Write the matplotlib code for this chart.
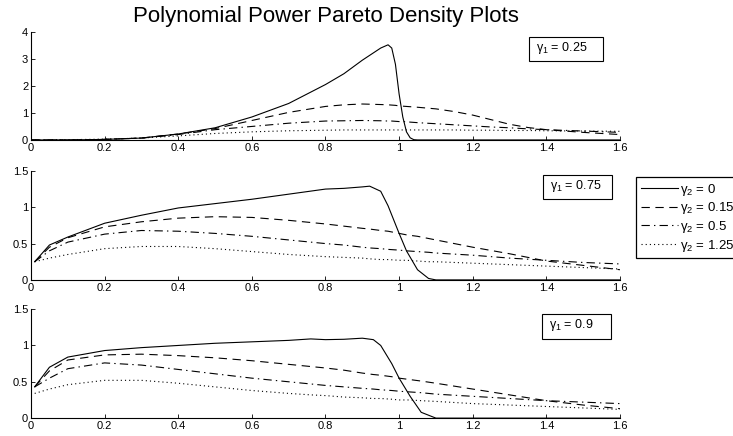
import matplotlib
matplotlib.use('Agg')
import matplotlib.pyplot as plt
from matplotlib.patches import Rectangle

plt.rcParams['font.family'] = ['Liberation Sans', 'DejaVu Sans']
plt.rcParams['mathtext.fontset'] = 'custom'
plt.rcParams['mathtext.rm'] = 'Liberation Sans'
plt.rcParams['mathtext.it'] = 'Liberation Sans'
plt.rcParams['lines.scale_dashes'] = False

# gamma_1 = 0.25
x_top = [0, 0.1, 0.2, 0.3, 0.4, 0.5, 0.6, 0.7, 0.8, 0.85, 0.9, 0.95, 0.97, 0.98, 0.99, 1.0,
         1.01, 1.02, 1.03, 1.04, 1.05, 1.1, 1.15, 1.2, 1.25, 1.3, 1.35, 1.4, 1.5, 1.6]
top_g0 = [0, 0.0, 0.02, 0.07, 0.22, 0.45, 0.85, 1.35, 2.05, 2.45, 2.95, 3.4, 3.52, 3.4, 2.8, 1.7,
          0.85, 0.3, 0.08, 0.01, 0, 0, 0, 0, 0, 0, 0, 0, 0, 0]
top_g015 = [0, 0.0, 0.02, 0.07, 0.22, 0.42, 0.72, 1.02, 1.24, 1.3, 1.33, 1.31, 1.3, 1.29, 1.28, 1.26,
            1.25, 1.24, 1.23, 1.22, 1.21, 1.15, 1.05, 0.92, 0.75, 0.58, 0.46, 0.38, 0.28, 0.2]
top_g05 = [0, 0.0, 0.02, 0.07, 0.2, 0.38, 0.5, 0.62, 0.7, 0.71, 0.72, 0.71, 0.7, 0.7, 0.69, 0.68,
           0.68, 0.67, 0.66, 0.65, 0.64, 0.6, 0.56, 0.52, 0.48, 0.45, 0.41, 0.38, 0.33, 0.28]
top_g125 = [0, 0.01, 0.03, 0.07, 0.15, 0.24, 0.3, 0.34, 0.36, 0.37, 0.37, 0.37, 0.37, 0.37, 0.37, 0.37,
            0.37, 0.37, 0.37, 0.37, 0.37, 0.37, 0.37, 0.36, 0.36, 0.35, 0.35, 0.34, 0.33, 0.32]

# gamma_1 = 0.75
x_mid = [0.01, 0.05, 0.1, 0.2, 0.3, 0.4, 0.5, 0.6, 0.7, 0.8, 0.85, 0.9, 0.92, 0.95, 0.97, 1.0,
         1.02, 1.05, 1.08, 1.1, 1.2, 1.3, 1.4, 1.5, 1.6]
mid_g0 = [0.25, 0.48, 0.59, 0.78, 0.89, 0.99, 1.05, 1.11, 1.18, 1.25, 1.26, 1.28, 1.29, 1.22, 1.02, 0.64,
          0.4, 0.14, 0.02, 0, 0, 0, 0, 0, 0]
mid_g015 = [0.25, 0.45, 0.58, 0.73, 0.8, 0.85, 0.87, 0.86, 0.82, 0.77, 0.74, 0.71, 0.7, 0.68, 0.67, 0.64,
            0.62, 0.6, 0.57, 0.55, 0.45, 0.36, 0.26, 0.2, 0.14]
mid_g05 = [0.25, 0.4, 0.52, 0.63, 0.68, 0.67, 0.64, 0.6, 0.55, 0.5, 0.48, 0.45, 0.44, 0.43, 0.42, 0.41,
           0.4, 0.39, 0.38, 0.37, 0.34, 0.3, 0.27, 0.24, 0.22]
mid_g125 = [0.25, 0.3, 0.35, 0.43, 0.46, 0.46, 0.43, 0.39, 0.35, 0.32, 0.31, 0.3, 0.29, 0.28, 0.28, 0.27,
            0.27, 0.26, 0.25, 0.25, 0.23, 0.21, 0.19, 0.17, 0.15]

# gamma_1 = 0.9
x_bot = [0.01, 0.05, 0.1, 0.2, 0.3, 0.4, 0.5, 0.6, 0.7, 0.76, 0.8, 0.85, 0.9, 0.93, 0.95, 0.98, 1.0,
         1.03, 1.06, 1.1, 1.2, 1.3, 1.4, 1.5, 1.6]
bot_g0 = [0.43, 0.7, 0.84, 0.93, 0.97, 1.0, 1.03, 1.05, 1.07, 1.09, 1.08, 1.085, 1.1, 1.08, 1.0, 0.75, 0.55,
          0.3, 0.08, 0, 0, 0, 0, 0, 0]
bot_g015 = [0.43, 0.65, 0.8, 0.87, 0.88, 0.86, 0.83, 0.79, 0.74, 0.71, 0.69, 0.66, 0.62, 0.6, 0.59, 0.57, 0.55,
            0.53, 0.51, 0.48, 0.4, 0.32, 0.24, 0.18, 0.13]
bot_g05 = [0.43, 0.55, 0.68, 0.76, 0.73, 0.67, 0.61, 0.55, 0.5, 0.47, 0.45, 0.43, 0.41, 0.4, 0.39, 0.38, 0.37,
           0.36, 0.35, 0.33, 0.3, 0.27, 0.24, 0.22, 0.2]
bot_g125 = [0.34, 0.4, 0.46, 0.52, 0.52, 0.48, 0.43, 0.38, 0.34, 0.32, 0.31, 0.29, 0.28, 0.27, 0.27, 0.26, 0.25,
            0.25, 0.24, 0.23, 0.2, 0.18, 0.16, 0.14, 0.12]

gamma1_labels = ['0.25', '0.75', '0.9']
gamma2_labels = ['0', '0.15', '0.5', '1.25']
styles = ['-', (0, (6, 4)), (0, (6, 3, 1, 3)), (0, (0.8, 2.2))]

panels = [
    (x_top, [top_g0, top_g015, top_g05, top_g125], 4, [0, 1, 2, 3, 4]),
    (x_mid, [mid_g0, mid_g015, mid_g05, mid_g125], 1.5, [0, 0.5, 1, 1.5]),
    (x_bot, [bot_g0, bot_g015, bot_g05, bot_g125], 1.5, [0, 0.5, 1, 1.5]),
]

fig = plt.figure(figsize=(7.33, 4.36), dpi=100)
rects = [[0.0423, 0.679, 0.8035, 0.248],
         [0.0423, 0.358, 0.8035, 0.25],
         [0.0423, 0.041, 0.8035, 0.25]]
boxes = [(0.846, 0.73, 0.126, 0.224),
         (0.869, 0.743, 0.117, 0.22),
         (0.868, 0.725, 0.117, 0.229)]

handles = []
for i, (xs, ys, ymax, yt) in enumerate(panels):
    ax = fig.add_axes(rects[i])
    for j, y in enumerate(ys):
        ln, = ax.plot(xs, y, color='black', linestyle=styles[j], linewidth=0.8)
        if i == 1:
            handles.append(ln)
    ax.set_xlim(0, 1.6)
    ax.set_ylim(0, ymax)
    ax.set_xticks([0, 0.2, 0.4, 0.6, 0.8, 1, 1.2, 1.4, 1.6])
    ax.set_xticklabels(['0', '0.2', '0.4', '0.6', '0.8', '1', '1.2', '1.4', '1.6'])
    ax.set_yticks(yt)
    ax.set_yticklabels([('%g' % v) for v in yt])
    ax.spines['top'].set_visible(False)
    ax.spines['right'].set_visible(False)
    ax.tick_params(direction='in', length=3, labelsize=8, pad=2, width=0.6)
    bx, by, bw, bh = boxes[i]
    ax.add_patch(Rectangle((bx, by), bw, bh, transform=ax.transAxes, fill=False,
                           edgecolor='black', linewidth=0.8, clip_on=False))
    ax.text(bx + 0.012, by + bh * 0.55, r'$\gamma_1$ = ' + gamma1_labels[i], transform=ax.transAxes,
            fontsize=9, va='center', ha='left')
    if i == 0:
        ax.set_title('Polynomial Power Pareto Density Plots', fontsize=16, pad=7)

leg = fig.legend(handles, [r'$\gamma_2$ = ' + s for s in gamma2_labels],
                 loc='upper left', bbox_to_anchor=(636 / 733, 1 - 177 / 436),
                 fontsize=9.5, handlelength=2.8, handletextpad=0.2, labelspacing=0.2,
                 borderpad=0.35, borderaxespad=0, fancybox=False, edgecolor='black', framealpha=1)
leg.get_frame().set_linewidth(0.9)

fig.savefig('out.png', dpi=100)
